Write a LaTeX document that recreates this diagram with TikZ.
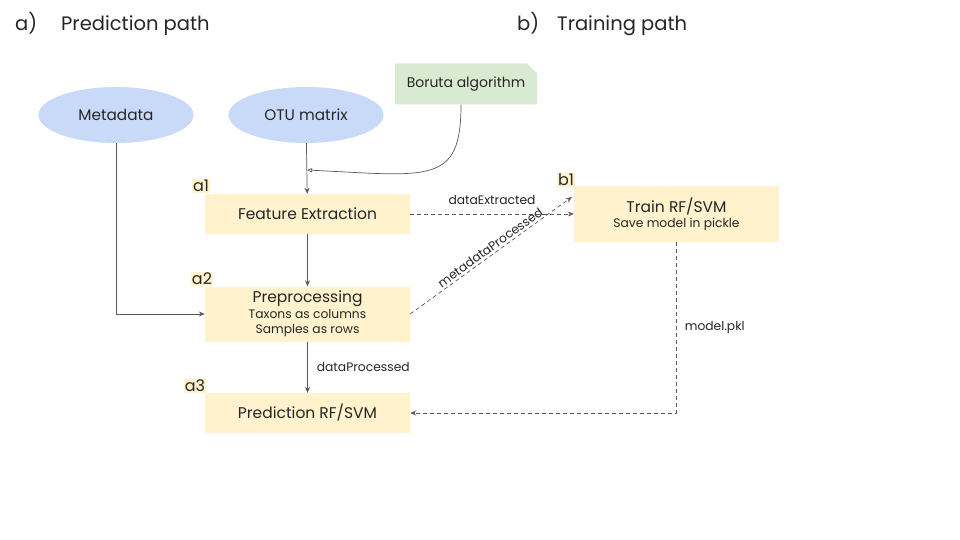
\documentclass[tikz,border=0pt]{standalone}
\usepackage{fontspec}
\setmainfont{Poppins}
\usetikzlibrary{arrows.meta,shapes.geometric,shapes.misc,calc}
\definecolor{ellblue}{HTML}{C9DAF8}
\definecolor{boxyel}{HTML}{FFF2CC}
\definecolor{boxgreen}{HTML}{D9EAD3}
\definecolor{linegray}{HTML}{595959}
\definecolor{txt}{HTML}{262626}
\newcommand{\subtxt}{\fontsize{12.3}{13}\selectfont}
\begin{document}
\begin{tikzpicture}[x=1pt,y=-1pt,
  every node/.style={text=txt,inner sep=0pt},
  ell/.style={ellipse,fill=ellblue,minimum width=155pt,minimum height=56pt,font=\fontsize{15.3}{17}\selectfont},
  ybox/.style={rectangle,fill=boxyel,minimum width=205pt,font=\fontsize{15.5}{17}\selectfont,align=center},
  gbox/.style={chamfered rectangle,chamfered rectangle corners=north east,chamfered rectangle xsep=5pt,chamfered rectangle ysep=5pt,fill=boxgreen,minimum width=142pt,minimum height=41pt,font=\fontsize{14}{16}\selectfont},
  tag/.style={fill=boxyel,inner sep=1pt,font=\fontsize{16}{18}\selectfont},
  conn/.style={draw=linegray,line width=0.7pt,-{Stealth[length=6pt,width=5pt]}},
  dconn/.style={conn,dashed,dash pattern=on 4pt off 3pt},
  lbl/.style={font=\fontsize{12.3}{14}\selectfont},
  ttl/.style={font=\fontsize{19.5}{22}\selectfont,anchor=base west}
]
\useasboundingbox[fill=white] (0,0) rectangle (960,540);

\node[ttl] (ta) at (15,31) {a)};
\node[ttl] (tpa) at (61,31) {Prediction path};
\node[ttl] (tb) at (517,31) {b)};
\node[ttl] (tpb) at (557,31) {Training path};

\node[ell] (meta) at (116,115) {Metadata};
\node[ell] (otu) at (306,115) {OTU matrix};
\node[gbox] (bor) at (466,84) {Boruta algorithm};

\node[ybox,minimum height=40pt] (fe) at (307.5,214) {Feature Extraction};
\node[ybox,minimum height=55pt] (pre) at (307.5,314) {Preprocessing\\[-1pt]{\subtxt Taxons as columns}\\[-2pt]{\subtxt Samples as rows}};
\node[ybox,minimum height=40pt] (pred) at (307.5,413) {Prediction RF/SVM};
\node[ybox,minimum height=56pt] (tr) at (676.5,214) {Train RF/SVM\\[-2pt]{\subtxt Save model in pickle}};

\node[tag] (a1) at (201,186) {a1};
\node[tag] (a2) at (202,279) {a2};
\node[tag] (a3) at (195,386) {a3};
\node[tag] (b1) at (566,180) {b1};

\coordinate (join) at (307,170);
\draw[conn] (otu) -- (fe);
\draw[draw=linegray,line width=0.7pt,-{Triangle[open,length=5pt,width=4pt]}] ([xshift=-5pt]bor.south) .. controls (461,185) and (430,176) .. (join);
\draw[conn] (meta.south) |- (pre.west);
\draw[conn] (fe) -- (pre);
\draw[conn] (pre) -- node[lbl,anchor=west,xshift=9pt] {dataProcessed} (pred);
\draw[dconn] (fe.east) -- node[lbl,above=9pt] {dataExtracted} (tr.west);
\draw[dconn] (pre.east) -- node[lbl,sloped,above=2pt,pos=0.52] {metadataProcessed} ($(tr.west)+(-2,-17)$);
\draw[dconn] (tr.south) |- node[lbl,pos=0.25,anchor=west,xshift=8pt] {model.pkl} (pred.east);
\end{tikzpicture}
\end{document}
